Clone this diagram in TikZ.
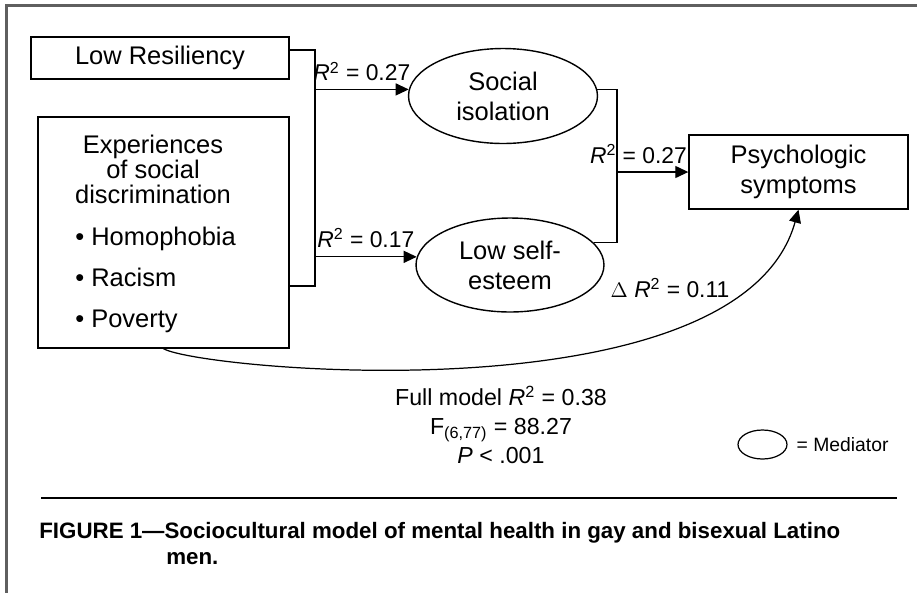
\documentclass[tikz,border=0pt]{standalone}
\usepackage{fontspec}
\setmainfont{Liberation Sans}
\usetikzlibrary{arrows.meta, positioning, shapes.geometric}
\definecolor{framegray}{RGB}{95,95,95}
\newcommand{\nodefont}{\fontsize{14.5}{17}\selectfont}
\newcommand{\lblfont}{\fontsize{13}{16}\selectfont}
\newcommand{\statfont}{\fontsize{13.2}{16.4}\selectfont}
\newcommand{\legfont}{\fontsize{11}{13}\selectfont}
\newcommand{\capfont}{\fontsize{12.7}{15}\selectfont\bfseries}
\newcommand{\Rsq}{\textit{R}\textsuperscript{2}}

\begin{document}
\begin{tikzpicture}[x=0.02cm, y=-0.02cm,
  box/.style={rectangle, draw, line width=0.8pt, inner sep=0pt,
              font=\nodefont, align=center},
  mediator/.style={ellipse, draw, line width=0.8pt, inner sep=0pt,
                   minimum width=3.78cm, minimum height=1.9cm,
                   font=\nodefont, align=center},
  txt/.style={inner sep=0pt, font=\nodefont},
  lbl/.style={inner sep=1pt, font=\lblfont},
  link/.style={line width=0.7pt},
  arrow/.style={link, -{Triangle[length=0.26cm, width=0.24cm]}}
]
\useasboundingbox (0,0) rectangle (917,593);
\draw[framegray, line width=1.2pt] (917,5.5) -- (6.5,5.5) -- (6.5,593);

% predictors
\node[box, minimum width=5.16cm, minimum height=0.84cm] (lowres) at (160,58) {Low Resiliency};
\node[box, minimum width=5.02cm, minimum height=4.62cm] (exper) at (163.5,232.5) {};
\node[txt, align=center, font=\fontsize{14.5}{14}\selectfont, anchor=north] (exphead) at (153,135)
  {Experiences\\of social\\discrimination};
\node[txt, align=left, font=\fontsize{14.5}{23.5}\selectfont, anchor=north west] (explist) at (75,226.5)
  {\textbullet\ Homophobia\\\textbullet\ Racism\\\textbullet\ Poverty};

% mediators and outcome
\node[mediator] (social) at (503,96) {Social\\isolation};
\node[mediator, minimum width=3.76cm, minimum height=1.88cm] (lowself) at (510,265) {Low self-\\esteem};
\node[box, minimum width=4.38cm, minimum height=1.48cm] (psych) at (798.5,172) {Psychologic\\symptoms};

\coordinate (jl) at (315,150);
\coordinate (jr) at (617,172);

\draw[link] ([yshift=0.16cm]lowres.east) -| (jl) |- ([yshift=-1.07cm]exper.east);
\draw[arrow] (jl |- social.176) -- node[lbl, above=3.5pt] (r2iso) {\Rsq{} = 0.27} (social.176);
\draw[arrow] (jl |- lowself.175) -- node[lbl, above=4pt] (r2self) {\Rsq{} = 0.17} (lowself.175);
\draw[link] (social.4) -| (jr) |- (lowself.15);
\draw[arrow] (jr) -- node[lbl, above=3.5pt, pos=0.3] (r2psych) {\Rsq{} = 0.27} (psych.west);
\draw[arrow] (exper.south) .. controls (200,370) and (740,420) .. (psych.south);
\node[lbl] (r2delta) at (670,288) {$\Delta$ \Rsq{} = 0.11};

% fit statistics and legend
\node[lbl, font=\statfont, align=center] (stats) at (501,425)
  {Full model \Rsq{} = 0.38\\F\textsubscript{(6,77)} = 88.27\\\textit{P} < .001};
\node[ellipse, draw, line width=0.7pt, inner sep=0pt, minimum width=0.98cm, minimum height=0.58cm] (legend) at (762.5,444.5) {};
\node[lbl, font=\legfont, right=0.14cm of legend] (legendtxt) {= Mediator};

% caption
\draw[line width=0.8pt] (41,498) -- (897,498);
\node[inner sep=0pt, font=\capfont, anchor=base west] (caption) at (39,538)
  {FIGURE 1—Sociocultural model of mental health in gay and bisexual Latino};
\node[inner sep=0pt, font=\capfont, anchor=base west] (caption2) at (166,564) {men.};
\end{tikzpicture}
\end{document}
